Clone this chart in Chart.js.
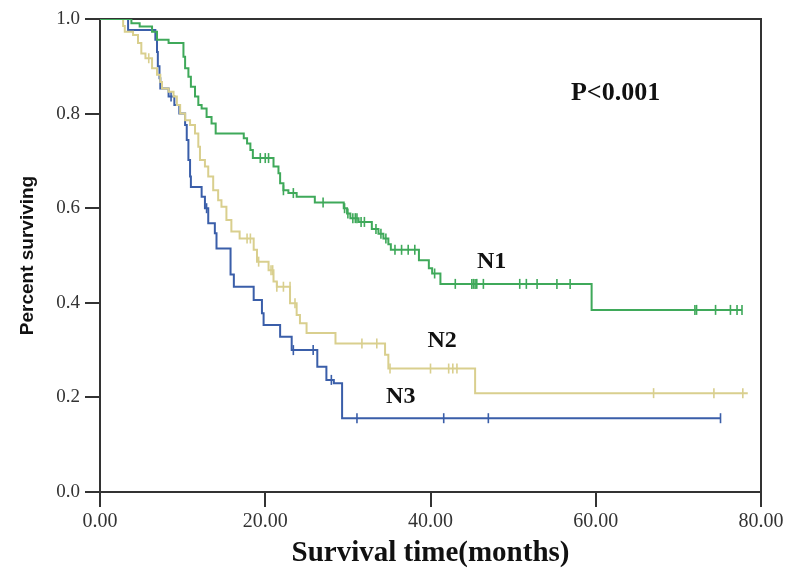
<!DOCTYPE html>
<html>
<head>
<meta charset="utf-8">
<script src="https://cdn.jsdelivr.net/npm/chart.js@4.4.0/dist/chart.umd.min.js"></script>
<style>
  html, body { margin: 0; padding: 0; background: #fff; }
  #wrap { width: 800px; height: 586px; }
</style>
</head>
<body>
<div id="wrap"><canvas id="kmChart" width="800" height="586"></canvas></div>
<script>
// ---- data (months, proportion surviving) ----
const n1Times = [0, 3.8, 4.8, 6.3, 6.9, 8.3, 10.1, 10.3, 10.7, 11.0, 11.5, 11.9, 12.3, 12.9, 13.5, 14.0,
  17.4, 17.8, 18.2, 18.5, 21.0, 21.6, 21.8, 22.2, 22.8, 23.8, 26.0, 29.5, 29.9, 30.3, 31.3, 32.9,
  33.7, 34.3, 34.9, 35.2, 38.6, 39.8, 40.2, 41.2, 59.5, 77.7];
const n1Surv = [1.0, 0.991, 0.984, 0.973, 0.956, 0.949, 0.92, 0.896, 0.878, 0.857, 0.836, 0.818, 0.811, 0.793, 0.779, 0.758,
  0.748, 0.737, 0.723, 0.706, 0.688, 0.674, 0.653, 0.638, 0.632, 0.624, 0.612, 0.600, 0.589, 0.579, 0.571, 0.556,
  0.546, 0.536, 0.524, 0.512, 0.490, 0.473, 0.462, 0.440, 0.385, 0.385];
const n1CensTimes = [19.4, 20.0, 20.4, 22.2, 23.4, 27.0, 29.6, 30.0, 30.6, 30.9, 31.1, 31.6, 32.0, 33.4, 34.0, 34.6,
  35.7, 36.5, 37.3, 38.1, 40.5, 43.0, 45.0, 45.2, 45.4, 45.6, 46.4, 50.8, 51.6, 52.9, 55.3, 56.9,
  72.0, 72.2, 74.5, 76.3, 77.1, 77.7];
const n1CensSurv = [0.706, 0.706, 0.706, 0.638, 0.632, 0.612, 0.600, 0.589, 0.579, 0.579, 0.579, 0.571, 0.571, 0.556, 0.546, 0.536,
  0.512, 0.512, 0.512, 0.512, 0.462, 0.440, 0.440, 0.440, 0.440, 0.440, 0.440, 0.440, 0.440, 0.440, 0.440, 0.440,
  0.385, 0.385, 0.385, 0.385, 0.385, 0.385];

const n2Times = [0, 2.8, 3.0, 4.0, 4.6, 5.0, 5.5, 6.3, 6.9, 7.3, 7.5, 8.3, 8.9, 9.3, 9.7, 10.3, 10.9, 11.5, 11.9,
  12.1, 12.7, 13.1, 13.7, 14.3, 14.7, 15.3, 15.9, 16.9, 18.6, 19.0, 20.4, 21.0, 21.4, 23.0, 23.8, 24.2, 25.0,
  28.5, 34.5, 34.9, 45.4, 78.4];
const n2Surv = [1.0, 0.985, 0.973, 0.966, 0.949, 0.927, 0.917, 0.896, 0.882, 0.867, 0.853, 0.846, 0.836, 0.818, 0.800, 0.786, 0.776, 0.758, 0.730,
  0.702, 0.688, 0.667, 0.638, 0.617, 0.603, 0.575, 0.551, 0.536, 0.512, 0.487, 0.469, 0.445, 0.434, 0.399, 0.374, 0.357, 0.336,
  0.314, 0.290, 0.261, 0.209, 0.209];
const n2CensTimes = [5.9, 17.8, 18.2, 19.2, 20.7, 20.9, 21.4, 22.2, 23.0, 23.6, 31.7, 33.5, 35.1, 40.0, 42.2, 42.7, 43.2, 67.0, 74.3, 77.8];
const n2CensSurv = [0.917, 0.536, 0.536, 0.487, 0.469, 0.469, 0.434, 0.434, 0.434, 0.399, 0.314, 0.314, 0.261, 0.261, 0.261, 0.261, 0.261, 0.209, 0.209, 0.209];

const n3Times = [0, 3.4, 6.7, 6.9, 7.0, 7.2, 7.3, 8.3, 9.0, 9.6, 10.3, 10.5, 10.7, 10.9, 11.0, 12.3, 12.7, 13.1, 13.9,
  14.1, 15.8, 16.2, 18.6, 19.6, 19.8, 21.8, 23.2, 26.3, 27.4, 28.3, 29.3, 75.1];
const n3Surv = [1.0, 0.977, 0.956, 0.930, 0.900, 0.875, 0.853, 0.836, 0.818, 0.800, 0.776, 0.744, 0.702, 0.667, 0.645, 0.624, 0.600, 0.568, 0.547,
  0.515, 0.460, 0.434, 0.406, 0.378, 0.353, 0.328, 0.300, 0.265, 0.237, 0.230, 0.156, 0.156];
const n3CensTimes = [8.6, 12.9, 23.4, 25.8, 28.0, 31.1, 41.6, 47.0, 75.1];
const n3CensSurv = [0.836, 0.600, 0.300, 0.300, 0.237, 0.156, 0.156, 0.156, 0.156];

const xTicks = [0, 20, 40, 60, 80];
const yTicks = [0, 0.2, 0.4, 0.6, 0.8, 1.0];

const green = '#3fa95a';
const tan = '#d9cf8e';
const blue = '#3a5ea9';

function pts(xs, ys) {
  return xs.map((x, i) => ({ x: x, y: ys[i] }));
}

// KM curve: stay flat until the next event time, then drop
function curve(label, xs, ys, color) {
  return {
    type: 'line', label: label, data: pts(xs, ys), stepped: 'before',
    borderColor: color, borderWidth: 2, pointRadius: 0, fill: false
  };
}

function censors(label, xs, ys, color) {
  return {
    type: 'scatter', label: label, data: pts(xs, ys), showLine: false,
    pointStyle: 'line', rotation: 90, pointRadius: 5, pointHoverRadius: 5,
    borderColor: color, borderWidth: 1.6, backgroundColor: color
  };
}

// text placed in data units
const notes = [
  { text: 'N1', x: 47.4, y: 0.487, size: 24 },
  { text: 'N2', x: 41.4, y: 0.320, size: 24 },
  { text: 'N3', x: 36.4, y: 0.201, size: 24 },
  { text: 'P<0.001', x: 62.4, y: 0.843, size: 26 }
];

const framePlugin = {
  id: 'frame',
  beforeDatasetsDraw(chart) {
    const a = chart.chartArea, ctx = chart.ctx;
    ctx.save();
    ctx.strokeStyle = '#333';
    ctx.lineWidth = 2;
    ctx.beginPath();
    ctx.moveTo(a.left, a.top);
    ctx.lineTo(a.right, a.top);
    ctx.lineTo(a.right, a.bottom + 15);
    ctx.stroke();
    ctx.restore();
  },
  afterDatasetsDraw(chart) {
    const ctx = chart.ctx, sx = chart.scales.x, sy = chart.scales.y;
    ctx.save();
    ctx.fillStyle = '#111';
    ctx.textAlign = 'center';
    ctx.textBaseline = 'middle';
    notes.forEach(n => {
      ctx.font = 'bold ' + n.size + 'px "Liberation Serif", serif';
      ctx.fillText(n.text, sx.getPixelForValue(n.x), sy.getPixelForValue(n.y));
    });
    ctx.restore();
  }
};

new Chart(document.getElementById('kmChart'), {
  data: {
    datasets: [
      curve('N1', n1Times, n1Surv, green),
      curve('N2', n2Times, n2Surv, tan),
      curve('N3', n3Times, n3Surv, blue),
      censors('N1 censored', n1CensTimes, n1CensSurv, green),
      censors('N2 censored', n2CensTimes, n2CensSurv, tan),
      censors('N3 censored', n3CensTimes, n3CensSurv, blue)
    ]
  },
  options: {
    responsive: false,
    animation: false,
    layout: { padding: { top: 19, right: 39, left: 0, bottom: 0 } },
    plugins: { legend: { display: false }, tooltip: { enabled: false } },
    scales: {
      x: {
        type: 'linear', min: 0, max: 80,
        afterFit: s => { s.height = 94; },
        afterBuildTicks: s => { s.ticks = xTicks.map(v => ({ value: v })); },
        ticks: {
          callback: v => v.toFixed(2), padding: 3, maxRotation: 0,
          color: '#333', font: { family: '"Liberation Serif", serif', size: 20 }
        },
        grid: { drawOnChartArea: false, drawTicks: true, tickLength: 15, color: '#333', lineWidth: 2 },
        border: { color: '#333', width: 2 },
        title: {
          display: true, text: 'Survival time(months)', color: '#111',
          font: { family: '"Liberation Serif", serif', size: 29, weight: 'bold' },
          padding: { top: 0, bottom: 15 }
        }
      },
      y: {
        type: 'linear', min: 0, max: 1,
        afterFit: s => { s.width = 100; },
        afterBuildTicks: s => { s.ticks = yTicks.map(v => ({ value: v })); },
        ticks: {
          callback: v => v.toFixed(1), padding: 5,
          color: '#333', font: { family: '"Liberation Serif", serif', size: 19 }
        },
        grid: { drawOnChartArea: false, drawTicks: true, tickLength: 15, color: '#333', lineWidth: 2 },
        border: { color: '#333', width: 2 },
        title: {
          display: true, text: 'Percent surviving', color: '#111',
          font: { family: '"Liberation Sans", Arial, sans-serif', size: 19, weight: 'bold' },
          padding: { top: 16, bottom: 0 }
        }
      }
    }
  },
  plugins: [framePlugin]
});
</script>
</body>
</html>
